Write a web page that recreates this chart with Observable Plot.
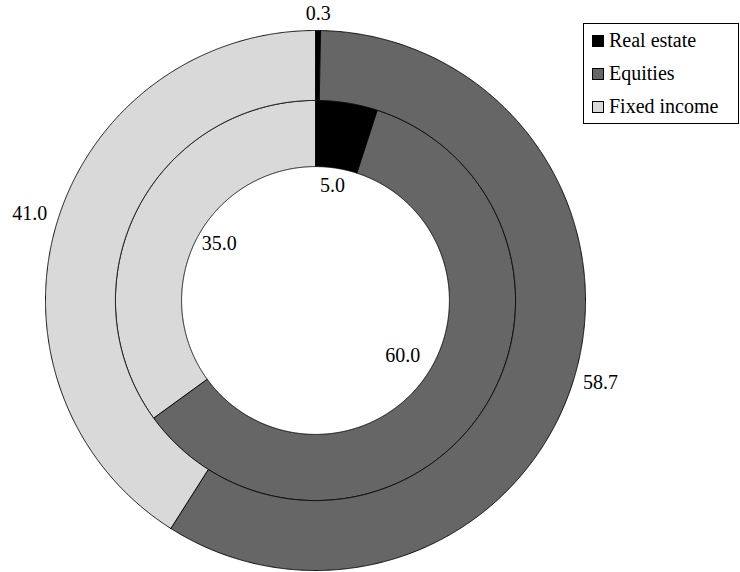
<!DOCTYPE html>
<html>
<head>
<meta charset="utf-8">
<script src="https://cdn.jsdelivr.net/npm/d3@7"></script>
<script src="https://cdn.jsdelivr.net/npm/@observablehq/plot@0.6"></script>
<style>
  body { margin: 0; background: #fff; }
  #wrap { position: relative; width: 740px; height: 572px; font-family: 'Liberation Serif', 'Times New Roman', 'Liberation Sans', Arial, sans-serif; }
  #legend {
    position: absolute; left: 583px; top: 23px; width: 154px;
    border: 1px solid #000; background: #fff; padding: 0;
    font-size: 20px; line-height: 33px; color: #000;
  }
  #legend .item { display: flex; align-items: center; white-space: nowrap; height: 33px; }
  #legend .sw { width: 10px; height: 10px; border: 1px solid #000; margin: 0 5px 0 8px; flex: none; }
</style>
</head>
<body>
<div id="wrap"></div>
<script>
// Asset allocation: inner ring and outer ring, in percent
const categories = ["Real estate", "Equities", "Fixed income"];
const innerValues = [5.0, 60.0, 35.0];
const outerValues = [0.3, 58.7, 41.0];

const colors = ["#000000", "#666666", "#d9d9d9"];

// Ring radii in units of the outer radius
const holeR = 0.496, midR = 0.741, outerR = 1.0;

// Build a closed polygon per segment, angles clockwise from 12 o'clock
function ring(values, r0, r1, ringName) {
  const total = d3.sum(values);
  const pts = [];
  const mids = [];
  let acc = 0;
  values.forEach((v, i) => {
    const a0 = acc / total * 2 * Math.PI;
    acc += v;
    const a1 = acc / total * 2 * Math.PI;
    const id = ringName + "-" + i;
    const n = Math.max(2, Math.ceil((a1 - a0) / 0.004));
    const seg = [];
    for (let k = 0; k <= n; k++) {
      const a = a0 + (a1 - a0) * k / n;
      seg.push({x: r1 * Math.sin(a), y: r1 * Math.cos(a), id, cat: categories[i]});
    }
    for (let k = n; k >= 0; k--) {
      const a = a0 + (a1 - a0) * k / n;
      seg.push({x: r0 * Math.sin(a), y: r0 * Math.cos(a), id, cat: categories[i]});
    }
    seg.push({...seg[0]});
    pts.push(...seg);
    mids.push({a: (a0 + a1) / 2, v, cat: categories[i]});
  });
  return {pts, mids};
}

const inner = ring(innerValues, holeR, midR, "inner");
const outer = ring(outerValues, midR, outerR, "outer");

const cx = 315, cy = 300, R = 270, W = 740, H = 572;
const fontSize = 20;

const fmt = d3.format(".1f");
// Inner values sit in the hole; outer values sit just outside the ring,
// pushed out by half the label box along the slice's mid direction
const innerLabels = inner.mids.map(m => ({
  x: 0.40 * Math.sin(m.a), y: 0.40 * Math.cos(m.a), text: fmt(m.v)
}));
const outerLabels = outer.mids.map(m => {
  const text = fmt(m.v);
  const w = fontSize * 0.53 * text.length, h = fontSize * 0.8;
  const ext = Math.abs(Math.sin(m.a)) * w / 2 + Math.abs(Math.cos(m.a)) * h / 2;
  const r = outerR + (5 + ext) / R;
  return {x: r * Math.sin(m.a), y: r * Math.cos(m.a), text};
});

const chart = Plot.plot({
  width: W,
  height: H,
  margin: 0,
  x: {domain: [-cx / R, (W - cx) / R], axis: null},
  y: {domain: [-(H - cy) / R, cy / R], axis: null},
  color: {domain: categories, range: colors},
  style: {fontFamily: "'Liberation Serif', 'Times New Roman', 'Liberation Sans', Arial, sans-serif", background: "#fff"},
  marks: [
    Plot.line([...inner.pts, ...outer.pts], {
      x: "x", y: "y", z: "id", fill: "cat",
      stroke: "#000", strokeWidth: 0.9, curve: "linear"
    }),
    Plot.text(innerLabels, {
      x: "x", y: "y", text: "text", dy: -8,
      fontSize, fill: "#000", textAnchor: "middle", lineAnchor: "middle"
    }),
    Plot.text(outerLabels, {
      x: "x", y: "y", text: "text", dy: -4,
      fontSize, fill: "#000", textAnchor: "middle", lineAnchor: "middle"
    })
  ]
});

const wrap = document.getElementById("wrap");
wrap.appendChild(chart);

const legend = document.createElement("div");
legend.id = "legend";
categories.forEach((c, i) => {
  const item = document.createElement("div");
  item.className = "item";
  const sw = document.createElement("span");
  sw.className = "sw";
  sw.style.background = colors[i];
  const t = document.createElement("span");
  t.textContent = c;
  item.appendChild(sw);
  item.appendChild(t);
  legend.appendChild(item);
});
wrap.appendChild(legend);
</script>
</body>
</html>
